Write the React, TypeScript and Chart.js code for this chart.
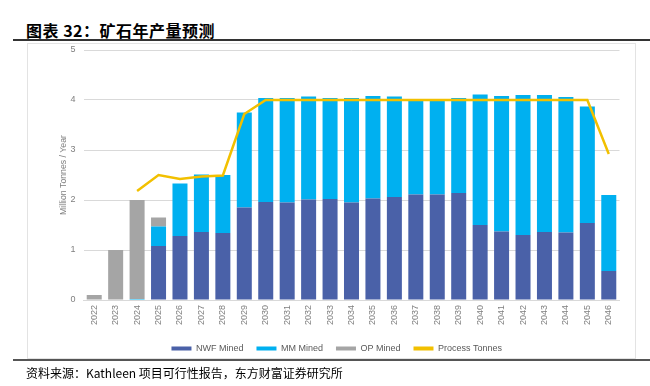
import React, { useEffect, useRef } from "react";
import { Chart, registerables } from "chart.js";

Chart.register(...registerables);

const years = [
  "2022", "2023", "2024", "2025", "2026", "2027", "2028", "2029", "2030", "2031",
  "2032", "2033", "2034", "2035", "2036", "2037", "2038", "2039", "2040", "2041",
  "2042", "2043", "2044", "2045", "2046",
];

const nwfMined = [
  0, 0, 0, 1.08, 1.28, 1.36, 1.34, 1.85, 1.96, 1.95,
  2.01, 2.02, 1.95, 2.03, 2.06, 2.11, 2.11, 2.14, 1.5, 1.37,
  1.3, 1.36, 1.35, 1.54, 0.58,
];

const mmMined = [
  0, 0, 0.02, 0.39, 1.05, 1.15, 1.16, 1.9, 2.08, 2.09,
  2.06, 2.02, 2.09, 2.05, 2.01, 1.88, 1.88, 1.9, 2.61, 2.71,
  2.8, 2.74, 2.71, 2.33, 1.52,
];

const opMined = [
  0.1, 1.0, 1.98, 0.18, 0, 0, 0, 0, 0, 0,
  0, 0, 0, 0, 0, 0, 0, 0, 0, 0,
  0, 0, 0, 0, 0,
];

const processTonnes = [
  null, null, 2.18, 2.5, 2.42, 2.47, 2.49, 3.72, 4.0, 4.0,
  4.0, 4.0, 4.0, 4.0, 4.0, 4.0, 4.0, 4.0, 4.0, 4.0,
  4.0, 4.0, 4.0, 4.0, 2.92,
];

const yMin = 0;
const yMax = 5;
const yStep = 1;

const titleText = "图表 32：矿石年产量预测";
const sourceText = "资料来源：Kathleen 项目可行性报告，东方财富证券研究所";
const yTitle = "Million Tonnes / Year";

export default function App() {
  const ref = useRef<HTMLCanvasElement>(null);

  useEffect(() => {
    if (!ref.current) return;
    Chart.defaults.font.family = "'Liberation Sans', Arial, sans-serif";
    const chart = new Chart(ref.current, {
      type: "bar",
      data: {
        labels: years,
        datasets: [
          {
            type: "bar",
            label: "NWF Mined",
            data: nwfMined,
            backgroundColor: "#4A61A8",
            stack: "mined",
            order: 1,
            barPercentage: 0.7,
            categoryPercentage: 1,
          },
          {
            type: "bar",
            label: "MM Mined",
            data: mmMined,
            backgroundColor: "#00B0F0",
            stack: "mined",
            order: 1,
            barPercentage: 0.7,
            categoryPercentage: 1,
          },
          {
            type: "bar",
            label: "OP Mined",
            data: opMined,
            backgroundColor: "#A5A5A5",
            stack: "mined",
            order: 1,
            barPercentage: 0.7,
            categoryPercentage: 1,
          },
          {
            type: "line",
            label: "Process Tonnes",
            data: processTonnes as any,
            borderColor: "#F2C000",
            backgroundColor: "#F2C000",
            borderWidth: 2.5,
            pointRadius: 0,
            tension: 0,
            stack: "process",
            order: 0,
          } as any,
        ],
      },
      options: {
        responsive: false,
        animation: false,
        layout: { padding: { left: 27, right: 15.5, top: 7, bottom: 10 } },
        plugins: {
          tooltip: { enabled: false },
          legend: {
            position: "bottom",
            labels: {
              boxWidth: 20,
              boxHeight: 4,
              padding: 13,
              color: "#595959",
              font: { size: 9 },
              sort: (a: any, b: any) => a.datasetIndex - b.datasetIndex,
              generateLabels: (c: any) =>
                (Chart.defaults.plugins.legend.labels as any)
                  .generateLabels(c)
                  .map((l: any) => ({ ...l, lineWidth: 0, strokeStyle: l.fillStyle })),
            },
          },
        },
        scales: {
          x: {
            stacked: true,
            grid: { display: false, drawTicks: false },
            border: { color: "#D9D9D9" },
            ticks: {
              minRotation: 90,
              maxRotation: 90,
              color: "#7F7F7F",
              font: { size: 9 },
              padding: 5,
            },
            afterFit: (s: any) => {
              s.height = 31;
            },
          },
          y: {
            stacked: true,
            min: yMin,
            max: yMax,
            ticks: { stepSize: yStep, color: "#7F7F7F", font: { size: 9 }, padding: 0 },
            grid: { color: "#D9D9D9", drawTicks: true, tickLength: 8, tickColor: "rgba(0,0,0,0)" },
            border: { display: false },
            title: {
              display: true,
              text: yTitle,
              color: "#7F7F7F",
              font: { size: 8.7 },
            },
            afterFit: (s: any) => {
              s.width = 29.5;
            },
          },
        },
      } as any,
    });
    return () => chart.destroy();
  }, []);

  return (
    <div style={{ position: "absolute", left: 0, top: 0, width: 650, height: 386, background: "#fff", overflow: "hidden" }}>
      <div
        style={{
          position: "absolute",
          left: 26,
          top: 20,
          fontFamily: "'Noto Sans CJK SC', sans-serif",
          fontWeight: 700,
          fontSize: 16,
          lineHeight: "20px",
          letterSpacing: 0.5,
          color: "#000",
          whiteSpace: "nowrap",
        }}
      >
        {titleText}
      </div>
      <div style={{ position: "absolute", left: 13, top: 39, width: 637, height: 2, background: "#333" }} />
      <div
        style={{
          position: "absolute",
          left: 27,
          top: 43,
          width: 607,
          height: 314,
          border: "1px solid #E3E3E3",
        }}
      />
      <canvas
        ref={ref}
        width={608}
        height={330}
        style={{ position: "absolute", left: 27, top: 43, width: 608, height: 330 }}
      />
      <div style={{ position: "absolute", left: 13, top: 359, width: 637, height: 2, background: "#555" }} />
      <div
        style={{
          position: "absolute",
          left: 26,
          top: 365,
          fontFamily: "'Noto Sans CJK SC', sans-serif",
          fontSize: 12,
          lineHeight: "16px",
          color: "#000",
          whiteSpace: "nowrap",
        }}
      >
        {sourceText}
      </div>
    </div>
  );
}
